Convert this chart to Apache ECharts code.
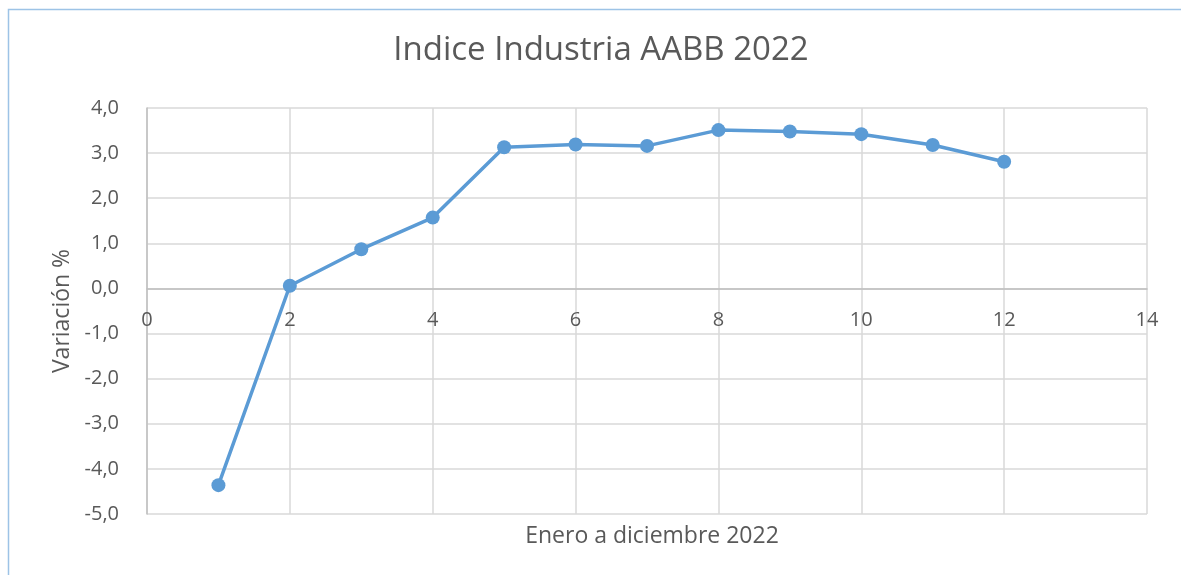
<!DOCTYPE html>
<html>
<head>
<meta charset="utf-8">
<script src="https://cdn.jsdelivr.net/npm/echarts@6/dist/echarts.min.js"></script>
<style>
  html, body { margin: 0; padding: 0; background: #fff; }
  #chart { width: 1181px; height: 575px; }
</style>
</head>
<body>
<div id="chart"></div>
<script>
  // mes (1..12) y variacion %
  const months = [1, 2, 3, 4, 5, 6, 7, 8, 9, 10, 11, 12];
  const variation = [-4.36, 0.06, 0.87, 1.57, 3.13, 3.19, 3.16, 3.51, 3.48, 3.42, 3.18, 2.81];

  const titleText = 'Indice Industria AABB 2022';
  const xName = 'Enero a diciembre 2022';
  const yName = 'Variación %';

  const textColor = '#595959';
  const font = '"Open Sans", "Liberation Sans", sans-serif';

  const yMin = -5, yMax = 4;
  const gridTop = 108, gridBottom = 61, chartH = 575;
  // desplazar el eje X hasta la linea del cero
  const plotH = chartH - gridTop - gridBottom;
  const zeroOffset = -plotH * (0 - yMin) / (yMax - yMin);

  const chart = echarts.init(document.getElementById('chart'));

  chart.setOption({
    animation: false,
    backgroundColor: '#fff',
    textStyle: { fontFamily: font },
    title: [
      {
        text: titleText,
        left: 596, top: 29, textAlign: 'center',
        textStyle: { fontSize: 33, fontWeight: 'normal', color: textColor, fontFamily: font }
      },
      {
        text: xName,
        left: 647, top: 520, textAlign: 'center',
        textStyle: { fontSize: 23, fontWeight: 'normal', color: textColor, fontFamily: font }
      }
    ],
    graphic: [{
      type: 'rect',
      shape: { x: 8.5, y: 9.5, width: 1300, height: 700 },
      style: { fill: 'none', stroke: '#9DC3E6', lineWidth: 1.5 },
      silent: true
    }],
    grid: { left: 147, right: 34, top: gridTop, bottom: gridBottom, containLabel: false },
    xAxis: {
      type: 'value',
      min: 0, max: 14, interval: 2,
      offset: zeroOffset,
      axisLine: { show: true, onZero: false, lineStyle: { color: '#BFBFBF', width: 1.5 } },
      axisTick: { show: false },
      axisLabel: { color: textColor, fontSize: 20, margin: 22, fontFamily: font },
      splitLine: { show: true, lineStyle: { color: '#D9D9D9', width: 1.5 } }
    },
    yAxis: {
      type: 'value',
      min: yMin, max: yMax, interval: 1,
      name: yName,
      nameLocation: 'middle',
      nameGap: 72,
      nameTextStyle: { color: textColor, fontSize: 23, fontFamily: font },
      axisLine: { show: true, lineStyle: { color: '#BFBFBF', width: 1.5 } },
      axisTick: { show: false },
      axisLabel: {
        color: textColor, fontSize: 20, margin: 28, fontFamily: font,
        formatter: v => v.toFixed(1).replace('.', ',')
      },
      splitLine: { show: true, lineStyle: { color: '#D9D9D9', width: 1.5 } }
    },
    series: [{
      type: 'line',
      data: months.map((m, i) => [m, variation[i]]),
      symbol: 'circle',
      symbolSize: 14,
      lineStyle: { color: '#5B9BD5', width: 3.5 },
      itemStyle: { color: '#5B9BD5' }
    }]
  });
</script>
</body>
</html>
